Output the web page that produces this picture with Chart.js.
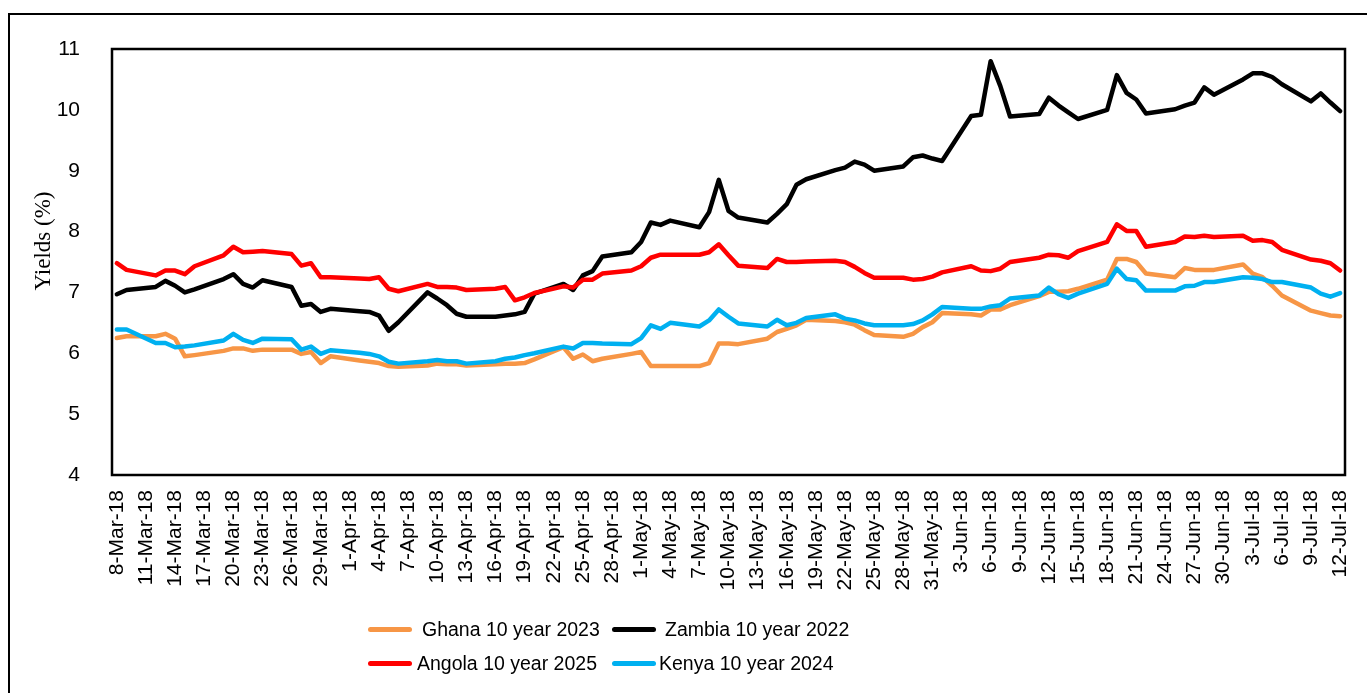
<!DOCTYPE html>
<html>
<head>
<meta charset="utf-8">
<script src="https://cdn.jsdelivr.net/npm/chart.js@4.4.0/dist/chart.umd.min.js"></script>
<style>
  body { margin: 0; background: #fff; overflow: hidden; }
  #wrap { position: relative; width: 1367px; height: 693px; overflow: hidden; }
  #frame { position: absolute; left: 8px; top: 13px; width: 1400px; height: 720px; border: 2px solid #000; }
  #yTitle {
    position: absolute; left: 43px; top: 241px; white-space: nowrap;
    transform: translate(-50%, -50%) rotate(-90deg);
    font: 23px "Liberation Serif", "Times New Roman", serif; color: #000;
  }
  .leg { position: absolute; height: 24px; font: 19.5px "Liberation Sans", Arial, sans-serif; color: #000; white-space: nowrap; }
  .leg .sw { position: absolute; top: 10px; height: 5px; border-radius: 3px; }
  .leg .tx { position: absolute; top: 0; line-height: 24px; }
</style>
</head>
<body>
<div id="wrap">
  <canvas id="chart" width="1367" height="693"></canvas>
  <div id="frame"></div>
  <div id="yTitle">Yields (%)</div>
  <div id="legend"></div>
</div>
<script>
// trading days (weekdays) with quotes
const tradingDays = [
  "8-Mar-18","9-Mar-18","12-Mar-18","13-Mar-18","14-Mar-18","15-Mar-18","16-Mar-18","19-Mar-18","20-Mar-18","21-Mar-18","22-Mar-18","23-Mar-18","26-Mar-18","27-Mar-18","28-Mar-18","29-Mar-18","30-Mar-18",
  "2-Apr-18","3-Apr-18","4-Apr-18","5-Apr-18","6-Apr-18","9-Apr-18","10-Apr-18","11-Apr-18","12-Apr-18","13-Apr-18","16-Apr-18","17-Apr-18","18-Apr-18","19-Apr-18","20-Apr-18","23-Apr-18","24-Apr-18","25-Apr-18","26-Apr-18","27-Apr-18","30-Apr-18",
  "1-May-18","2-May-18","3-May-18","4-May-18","7-May-18","8-May-18","9-May-18","10-May-18","11-May-18","14-May-18","15-May-18","16-May-18","17-May-18","18-May-18","21-May-18","22-May-18","23-May-18","24-May-18","25-May-18","28-May-18","29-May-18","30-May-18","31-May-18",
  "1-Jun-18","4-Jun-18","5-Jun-18","6-Jun-18","7-Jun-18","8-Jun-18","11-Jun-18","12-Jun-18","13-Jun-18","14-Jun-18","15-Jun-18","18-Jun-18","19-Jun-18","20-Jun-18","21-Jun-18","22-Jun-18","25-Jun-18","26-Jun-18","27-Jun-18","28-Jun-18","29-Jun-18",
  "2-Jul-18","3-Jul-18","4-Jul-18","5-Jul-18","6-Jul-18","9-Jul-18","10-Jul-18","11-Jul-18","12-Jul-18"
];

const ghana = [
  6.25,6.28,6.28,6.32,6.24,5.95,5.97,6.04,6.08,6.08,6.04,6.06,6.06,5.99,6.02,5.84,5.95,
  5.88,5.86,5.84,5.79,5.78,5.80,5.83,5.82,5.82,5.80,5.82,5.83,5.83,5.84,5.90,6.10,5.91,5.98,5.87,5.91,5.99,
  6.02,5.79,5.79,5.79,5.79,5.84,6.16,6.16,6.15,6.24,6.35,6.40,6.46,6.55,6.53,6.51,6.47,6.38,6.30,6.27,6.32,6.43,6.51,
  6.66,6.64,6.62,6.72,6.72,6.79,6.94,7.01,7.01,7.02,7.06,7.21,7.55,7.55,7.50,7.31,7.25,7.40,7.37,7.37,7.37,
  7.46,7.31,7.25,7.11,6.95,6.70,6.66,6.62,6.61
];
const zambia = [
  6.97,7.04,7.09,7.19,7.11,7.00,7.05,7.22,7.30,7.14,7.08,7.20,7.09,6.78,6.81,6.68,6.73,
  6.69,6.68,6.62,6.37,6.51,7.00,6.90,6.79,6.65,6.60,6.60,6.62,6.64,6.68,6.98,7.14,7.04,7.28,7.35,7.59,7.66,
  7.83,8.15,8.11,8.18,8.07,8.32,8.85,8.34,8.23,8.15,8.29,8.45,8.77,8.86,9.01,9.05,9.15,9.10,9.00,9.07,9.22,9.25,9.20,
  9.16,9.90,9.92,10.80,10.39,9.89,9.93,10.20,10.07,9.96,9.85,10.00,10.57,10.28,10.17,9.94,10.01,10.07,10.12,10.37,10.25,
  10.50,10.60,10.60,10.54,10.42,10.14,10.27,10.12,9.98
];
const angola = [
  7.48,7.37,7.28,7.36,7.36,7.30,7.43,7.61,7.75,7.66,7.67,7.68,7.63,7.44,7.48,7.25,7.25,
  7.23,7.22,7.25,7.06,7.02,7.14,7.09,7.09,7.08,7.04,7.06,7.09,6.87,6.92,6.99,7.10,7.08,7.21,7.21,7.31,7.36,
  7.43,7.57,7.62,7.62,7.62,7.66,7.79,7.61,7.44,7.40,7.55,7.50,7.50,7.51,7.52,7.50,7.42,7.32,7.24,7.24,7.21,7.22,7.26,
  7.33,7.43,7.36,7.35,7.39,7.50,7.57,7.62,7.61,7.57,7.68,7.83,8.12,8.01,8.01,7.75,7.83,7.92,7.91,7.93,7.91,
  7.93,7.85,7.86,7.83,7.70,7.54,7.52,7.48,7.36
];
const kenya = [
  6.39,6.39,6.17,6.17,6.10,6.11,6.13,6.21,6.32,6.22,6.17,6.24,6.23,6.06,6.11,5.99,6.05,
  6.01,5.99,5.95,5.86,5.83,5.87,5.89,5.87,5.87,5.83,5.87,5.91,5.93,5.97,6.00,6.11,6.08,6.17,6.17,6.16,6.15,
  6.25,6.46,6.40,6.50,6.44,6.54,6.72,6.60,6.49,6.44,6.55,6.46,6.50,6.58,6.64,6.57,6.54,6.49,6.46,6.46,6.48,6.54,6.64,
  6.76,6.73,6.73,6.77,6.79,6.90,6.95,7.08,6.97,6.91,6.98,7.14,7.39,7.22,7.20,7.03,7.03,7.10,7.11,7.17,7.17,
  7.25,7.24,7.22,7.17,7.17,7.08,6.98,6.93,6.99
];

const seriesNames = ["Ghana 10 year 2023", "Zambia 10 year 2022", "Angola 10 year 2025", "Kenya 10 year 2024"];
const yTicks = [4, 5, 6, 7, 8, 9, 10, 11];

// calendar axis: every day from first to last quote, labels every 3rd day
const months = ["Jan","Feb","Mar","Apr","May","Jun","Jul","Aug","Sep","Oct","Nov","Dec"];
let allDays = [];
let d = new Date(2018, 2, 8);
const end = new Date(2018, 6, 12);
while (d <= end) {
  allDays.push(d.getDate() + "-" + months[d.getMonth()] + "-18");
  d.setDate(d.getDate() + 1);
}

function onCalendar(values) {
  let out = allDays.map(() => null);
  tradingDays.forEach((day, i) => { out[allDays.indexOf(day)] = values[i]; });
  return out;
}

const colors = ["#F79646", "#000000", "#FF0000", "#00B0F0"];
const allValues = [ghana, zambia, angola, kenya];

const datasets = allValues.map((vals, i) => ({
  label: seriesNames[i],
  data: onCalendar(vals),
  borderColor: colors[i],
  backgroundColor: colors[i],
  borderWidth: 4.5,
  pointRadius: 0,
  tension: 0,
  spanGaps: true,
  borderJoinStyle: "round",
  borderCapStyle: "round",
  order: 4 - i
}));

// box around the plot area
const plotFrame = {
  id: "plotFrame",
  afterDraw(chart) {
    const a = chart.chartArea, ctx = chart.ctx;
    ctx.save();
    ctx.strokeStyle = "#000";
    ctx.lineWidth = 2.5;
    ctx.strokeRect(a.left, a.top, a.right - a.left, a.bottom - a.top);
    ctx.restore();
  }
};

const font = { family: "'Liberation Sans', Arial, sans-serif" };

const chart = new Chart(document.getElementById("chart"), {
  type: "line",
  data: { labels: allDays, datasets: datasets },
  options: {
    responsive: false,
    animation: false,
    layout: { padding: { left: 10, right: 22, top: 49, bottom: 88 } },
    plugins: { legend: { display: false }, tooltip: { enabled: false } },
    scales: {
      x: {
        type: "category",
        offset: true,
        // tick marks hidden, tickLength only pushes the labels down
        grid: { display: false, drawTicks: true, tickLength: 15 },
        border: { display: false },
        afterFit: (s) => { s.height = 130; },
        ticks: {
          autoSkip: false,
          minRotation: 90,
          maxRotation: 90,
          padding: 0,
          color: "#000",
          font: { ...font, size: 21 },
          callback: function (v, i) { return i % 3 === 0 ? this.getLabelForValue(v) : null; }
        }
      },
      y: {
        min: yTicks[0],
        max: yTicks[yTicks.length - 1],
        grid: { display: false },
        border: { display: false },
        afterFit: (s) => { s.width = 102; },
        afterBuildTicks: (s) => { s.ticks = yTicks.map(v => ({ value: v })); },
        ticks: { padding: 24, color: "#000", font: { ...font, size: 21 } }
      }
    }
  },
  plugins: [plotFrame]
});

// legend in two rows, like the original
const legendSpots = [
  { sw: 368, tx: 422, y: 617 }, { sw: 612, tx: 665, y: 617 },
  { sw: 368, tx: 417, y: 651 }, { sw: 612, tx: 659, y: 651 }
];
const legendBox = document.getElementById("legend");
chart.data.datasets.forEach((ds, i) => {
  const s = legendSpots[i];
  const item = document.createElement("div");
  item.className = "leg";
  item.style.left = "0px";
  item.style.top = s.y + "px";
  item.innerHTML = '<span class="sw" style="left:' + s.sw + 'px;width:44px;background:' + ds.borderColor + '"></span>' +
    '<span class="tx" style="left:' + s.tx + 'px">' + ds.label + '</span>';
  legendBox.appendChild(item);
});
</script>
</body>
</html>
